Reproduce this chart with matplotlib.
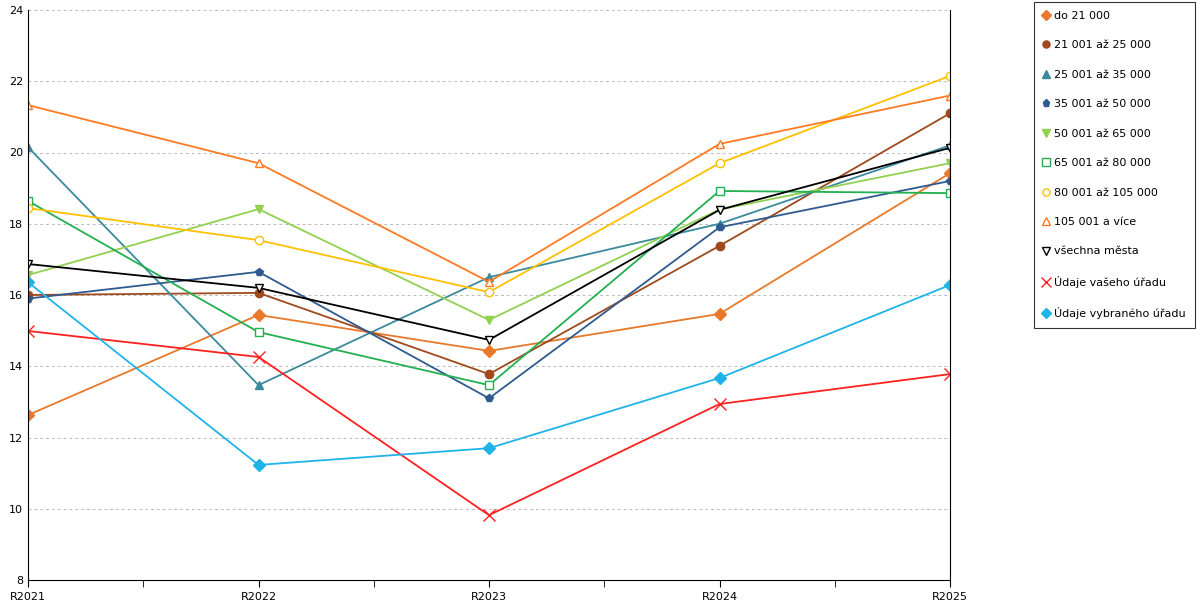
import matplotlib.pyplot as plt
from matplotlib.ticker import MultipleLocator, FixedLocator

years = ["R2021", "R2022", "R2023", "R2024", "R2025"]

do_21000 = [12.63, 15.44, 14.43, 15.47, 19.42]
s_21_25 = [16.0, 16.06, 13.78, 17.38, 21.1]
s_25_35 = [20.15, 13.47, 16.5, 18.0, 20.2]
s_35_50 = [15.9, 16.65, 13.1, 17.9, 19.2]
s_50_65 = [16.56, 18.41, 15.3, 18.4, 19.7]
s_65_80 = [18.64, 14.96, 13.47, 18.92, 18.86]
s_80_105 = [18.44, 17.54, 16.08, 19.7, 22.15]
s_105_plus = [21.33, 19.7, 16.37, 20.24, 21.6]
vsechna = [16.87, 16.2, 14.74, 18.39, 20.13]
vas_urad = [14.99, 14.26, 9.82, 12.94, 13.78]
vybrany_urad = [16.36, 11.23, 11.7, 13.67, 16.28]

series = [
    ("do 21 000", do_21000, "#E8782A", "D", True),
    ("21 001 až 25 000", s_21_25, "#9E4A1C", "o", True),
    ("25 001 až 35 000", s_25_35, "#3A8A9C", "^", True),
    ("35 001 až 50 000", s_35_50, "#2E5A8E", "p", True),
    ("50 001 až 65 000", s_50_65, "#92D050", "v", True),
    ("65 001 až 80 000", s_65_80, "#22B050", "s", False),
    ("80 001 až 105 000", s_80_105, "#FFC000", "o", False),
    ("105 001 a více", s_105_plus, "#FF7A22", "^", False),
    ("všechna města", vsechna, "#000000", "v", False),
    ("Údaje vašeho úřadu", vas_urad, "#FF2020", "x", False),
    ("Údaje vybraného úřadu", vybrany_urad, "#1FB4E8", "D", True),
]

fig = plt.figure(figsize=(12, 6), dpi=100)
ax = fig.add_axes([28 / 1200, 20 / 600, 922 / 1200, 570 / 600])

x = list(range(len(years)))
for name, vals, col, mk, filled in series:
    ax.plot(x, vals, color=col, lw=1.3, marker=mk,
            markersize=6 if mk != "x" else 8,
            markerfacecolor=col if filled else "white",
            markeredgecolor=col, markeredgewidth=1, label=name)

ax.set_xlim(0, 4)
ax.set_ylim(8, 24)
ax.yaxis.set_major_locator(MultipleLocator(2))
ax.set_xticks(x)
ax.set_xticklabels(years)
ax.xaxis.set_minor_locator(FixedLocator([0.5, 1.5, 2.5, 3.5]))
ax.tick_params(axis="x", which="both", direction="out", length=5, labelsize=8)
ax.tick_params(axis="y", length=0, labelsize=8)
ax.grid(axis="y", color="#BBBBBB", ls=(0, (3, 3)), lw=0.7)
ax.spines["top"].set_visible(False)
for s in ("left", "right", "bottom"):
    ax.spines[s].set_color("#000000")
    ax.spines[s].set_linewidth(0.8)

leg = fig.legend(loc="upper left", bbox_to_anchor=(1034 / 1200, 1 - 2 / 600),
                 fontsize=8, frameon=True, fancybox=False, handlelength=0.6,
                 handletextpad=0.4, labelspacing=1.75, borderpad=0.8,
                 borderaxespad=0, markerscale=0.85, edgecolor="black")
leg.get_frame().set_linewidth(0.8)
for h in leg.legend_handles:
    h.set_linestyle("")

fig.savefig("out.png", dpi=100)
